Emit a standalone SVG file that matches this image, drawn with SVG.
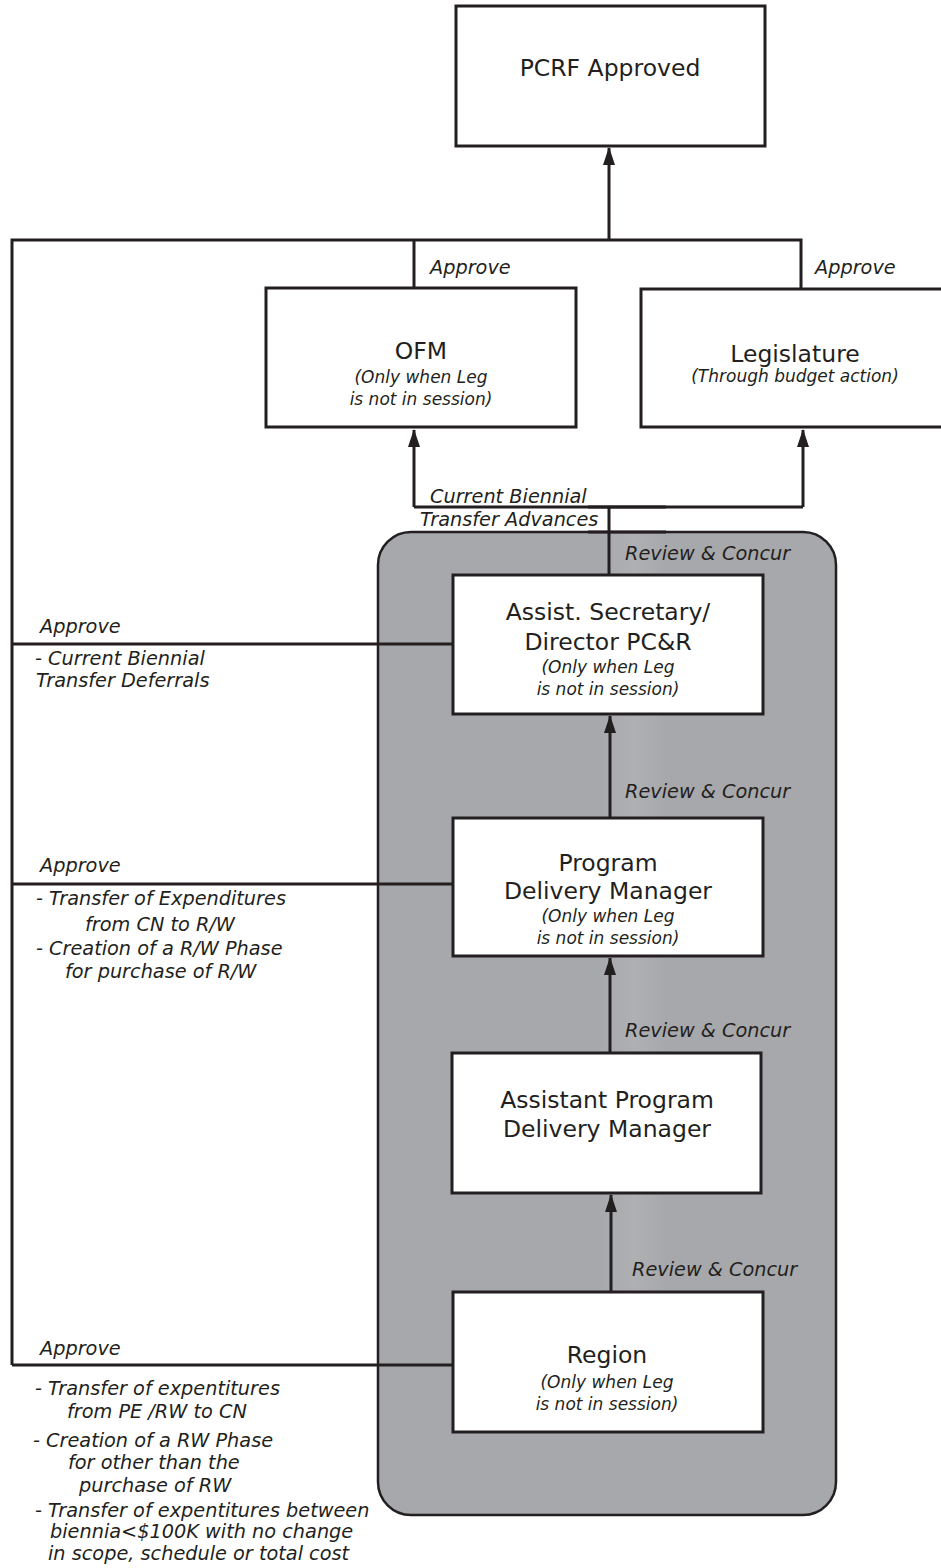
<svg xmlns="http://www.w3.org/2000/svg" width="941" height="1568" viewBox="0 0 941 1568">
  <style>
    .box { fill: #ffffff; stroke: #231f20; stroke-width: 3; }
    .line { fill: none; stroke: #231f20; stroke-width: 3; }
    .title { font-family: "DejaVu Sans", Verdana, sans-serif; font-size: 23.5px; fill: #231f20; text-anchor: middle; }
    .sub { font-family: "DejaVu Sans", Verdana, sans-serif; font-size: 17px; font-style: italic; fill: #231f20; text-anchor: middle; }
    .lbl { font-family: "DejaVu Sans", Verdana, sans-serif; font-size: 19.3px; font-style: italic; fill: #231f20; }
  </style>
  <defs>
    <marker id="arrow" markerUnits="userSpaceOnUse" markerWidth="18" markerHeight="12" refX="17" refY="6" orient="auto">
      <path d="M0,0 L18,6 L0,12 z" fill="#231f20"/>
    </marker>
    <linearGradient id="haze" x1="0" y1="0" x2="1" y2="0">
      <stop offset="0" stop-color="#ffffff" stop-opacity="0"/>
      <stop offset="0.5" stop-color="#ffffff" stop-opacity="0.09"/>
      <stop offset="1" stop-color="#ffffff" stop-opacity="0"/>
    </linearGradient>
  </defs>

  <rect width="941" height="1568" fill="#ffffff"/>

  <!-- shaded department panel -->
  <g id="panel">
    <rect x="378" y="532" width="458" height="983" rx="33" ry="33" fill="#a7a8ab" stroke="#231f20" stroke-width="2.5"/>
    <rect x="598" y="534" width="70" height="770" fill="url(#haze)"/>
  </g>

  <!-- connectors -->
  <g id="connectors">
    <!-- top approval bus -->
    <polyline class="line" points="12,1365 12,240 801,240 801,289"/>
    <line class="line" x1="414" y1="240" x2="414" y2="289"/>
    <line class="line" x1="609" y1="240" x2="609" y2="148" marker-end="url(#arrow)"/>
    <!-- advances to OFM / Legislature -->
    <polyline class="line" points="414,507 803,507"/>
    <line class="line" x1="414" y1="507" x2="414" y2="430" marker-end="url(#arrow)"/>
    <line class="line" x1="803" y1="507" x2="803" y2="430" marker-end="url(#arrow)"/>
    <line class="line" x1="609" y1="507" x2="609" y2="575"/>
    <line class="line" x1="588" y1="507" x2="666" y2="507" stroke-width="3.5"/>
    <line class="line" x1="588" y1="532" x2="666" y2="532" stroke-width="3.5"/>
    <!-- review chain -->
    <line class="line" x1="610" y1="818" x2="610" y2="716" marker-end="url(#arrow)"/>
    <line class="line" x1="610" y1="1053" x2="610" y2="958" marker-end="url(#arrow)"/>
    <line class="line" x1="611" y1="1292" x2="611" y2="1195" marker-end="url(#arrow)"/>
    <!-- approval taps -->
    <line class="line" x1="12" y1="644" x2="453" y2="644"/>
    <line class="line" x1="12" y1="884" x2="453" y2="884"/>
    <line class="line" x1="12" y1="1365" x2="453" y2="1365"/>
  </g>

  <!-- connector labels -->
  <g id="labels">
    <text class="lbl" x="430" y="274">Approve</text>
    <text class="lbl" x="815" y="274">Approve</text>
    <text class="lbl" x="430" y="503">Current Biennial</text>
    <text class="lbl" x="420" y="526">Transfer Advances</text>
    <text class="lbl" x="625" y="560">Review &amp; Concur</text>
    <text class="lbl" x="625" y="798">Review &amp; Concur</text>
    <text class="lbl" x="625" y="1037">Review &amp; Concur</text>
    <text class="lbl" x="632" y="1276">Review &amp; Concur</text>

    <text class="lbl" x="40" y="633">Approve</text>
    <text class="lbl" x="35" y="665">- Current Biennial</text>
    <text class="lbl" x="36" y="687">Transfer Deferrals</text>

    <text class="lbl" x="40" y="872">Approve</text>
    <text class="lbl" x="36" y="905">- Transfer of Expenditures</text>
    <text class="lbl" x="85" y="931">from CN to R/W</text>
    <text class="lbl" x="36" y="955">- Creation of a R/W Phase</text>
    <text class="lbl" x="65" y="978">for purchase of R/W</text>

    <text class="lbl" x="40" y="1355">Approve</text>
    <text class="lbl" x="35" y="1395">- Transfer of expentitures</text>
    <text class="lbl" x="67" y="1418">from PE /RW to CN</text>
    <text class="lbl" x="33" y="1447">- Creation of a RW Phase</text>
    <text class="lbl" x="68" y="1469">for other than the</text>
    <text class="lbl" x="79" y="1492">purchase of RW</text>
    <text class="lbl" x="35" y="1517">- Transfer of expentitures between</text>
    <text class="lbl" x="50" y="1538">biennia&lt;$100K with no change</text>
    <text class="lbl" x="48" y="1560">in scope, schedule or total cost</text>
  </g>

  <!-- nodes -->
  <g id="pcrf-approved">
    <rect class="box" x="456" y="6" width="309" height="140"/>
    <text class="title" x="610" y="76" font-size="22.5">PCRF Approved</text>
  </g>

  <g id="ofm">
    <rect class="box" x="266" y="288" width="310" height="139"/>
    <text class="title" x="421" y="359">OFM</text>
    <text class="sub" x="421" y="383">(Only when Leg</text>
    <text class="sub" x="421" y="405">is not in session)</text>
  </g>

  <g id="legislature">
    <rect class="box" x="641" y="289" width="310" height="138"/>
    <text class="title" x="795" y="362">Legislature</text>
    <text class="sub" x="795" y="382">(Through budget action)</text>
  </g>

  <g id="assist-secretary">
    <rect class="box" x="453" y="575" width="310" height="139"/>
    <text class="title" x="608" y="620">Assist. Secretary/</text>
    <text class="title" x="608" y="650">Director PC&amp;R</text>
    <text class="sub" x="608" y="673">(Only when Leg</text>
    <text class="sub" x="608" y="695">is not in session)</text>
  </g>

  <g id="program-delivery-manager">
    <rect class="box" x="453" y="818" width="310" height="138"/>
    <text class="title" x="608" y="871">Program</text>
    <text class="title" x="608" y="899">Delivery Manager</text>
    <text class="sub" x="608" y="922">(Only when Leg</text>
    <text class="sub" x="608" y="944">is not in session)</text>
  </g>

  <g id="assistant-program-delivery-manager">
    <rect class="box" x="452" y="1053" width="309" height="140"/>
    <text class="title" x="607" y="1108">Assistant Program</text>
    <text class="title" x="607" y="1137">Delivery Manager</text>
  </g>

  <g id="region">
    <rect class="box" x="453" y="1292" width="310" height="140"/>
    <text class="title" x="607" y="1363">Region</text>
    <text class="sub" x="607" y="1388">(Only when Leg</text>
    <text class="sub" x="607" y="1410">is not in session)</text>
  </g>
</svg>
